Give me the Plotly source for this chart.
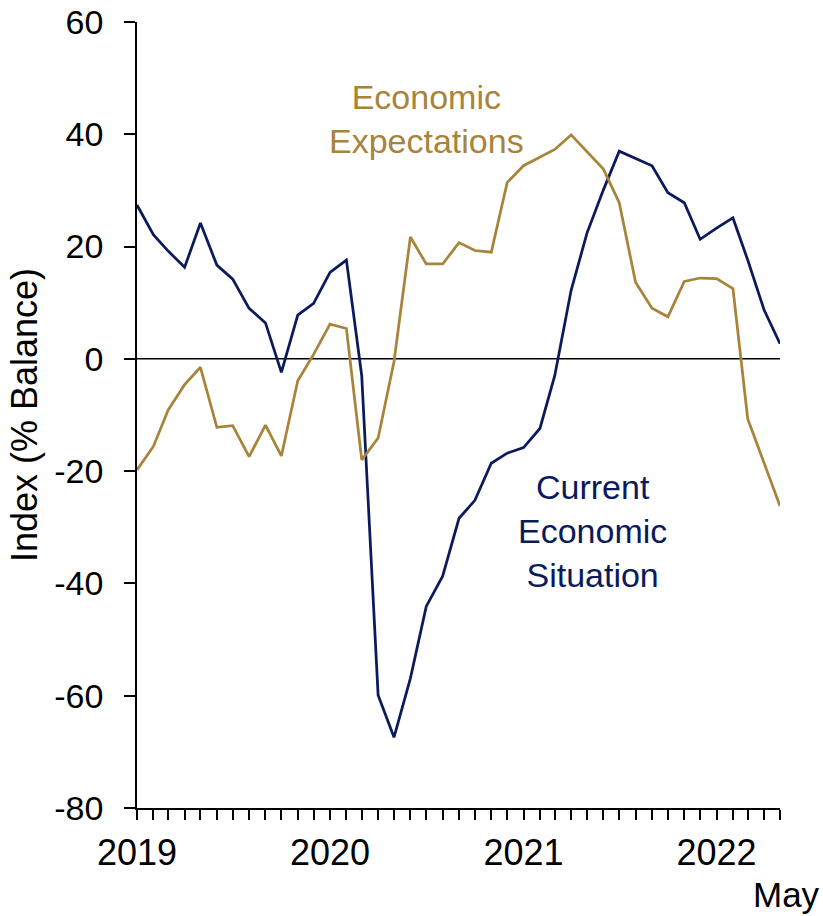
import pandas as pd
import plotly.graph_objects as go

# Monthly survey balances, Jan 2019 - May 2022
months = pd.date_range("2019-01-01", "2022-05-01", freq="MS")

current_situation = [
    27.4, 22.1, 19.2, 16.3, 24.2, 16.7, 14.2, 9.0, 6.4, -2.4, 7.8, 9.9,
    15.4, 17.6, -3.0, -59.9, -67.4, -56.9, -44.1, -38.7, -28.4, -25.2, -18.6, -16.8,
    -15.8, -12.4, -3.0, 12.2, 22.4, 30.1, 37.0, 35.7, 34.4, 29.6, 27.8, 21.3,
    23.3, 25.1, 17.6, 8.7, 2.7,
]
economic_expectations = [
    -19.8, -15.6, -9.1, -4.6, -1.5, -12.2, -11.9, -17.4, -11.8, -17.3, -3.9, 0.8,
    6.2, 5.4, -18.0, -14.1, -0.5, 21.7, 16.9, 16.9, 20.7, 19.3, 19.0, 31.4,
    34.4, 36.0, 37.3, 39.9, 36.9, 33.8, 27.8, 13.6, 9.0, 7.5, 13.8, 14.4,
    14.3, 12.5, -10.7, -18.4, -26.2,
]

y_ticks = [-80, -60, -40, -20, 0, 20, 40, 60]
y_tick_text = [str(v) for v in y_ticks]  # plain hyphen minus

NAVY = "#0B1A5B"
GOLD = "#A8843A"
FONT = "Liberation Sans, Arial, sans-serif"

fig = go.Figure()
fig.add_trace(go.Scatter(x=months, y=current_situation, mode="lines",
                         line=dict(color=NAVY, width=2.75), name="Current Economic Situation"))
fig.add_trace(go.Scatter(x=months, y=economic_expectations, mode="lines",
                         line=dict(color=GOLD, width=2.75), name="Economic Expectations"))

# zero reference line
fig.add_shape(type="line", xref="paper", x0=0, x1=1, yref="y", y0=0, y1=0,
              line=dict(color="black", width=1.5), layer="below")

tick_text = [str(d.year) if d.month == 1 else "" for d in months]

fig.update_layout(
    width=823, height=916,
    margin=dict(l=137, r=43, t=22, b=108),
    paper_bgcolor="white", plot_bgcolor="white",
    showlegend=False,
    font=dict(family=FONT, size=34, color="black"),
    xaxis=dict(
        range=[months[0], months[-1]], automargin=False,
        tickmode="array", tickvals=list(months), ticktext=tick_text,
        ticks="outside", ticklen=10, tickwidth=1.5, tickcolor="black",
        showline=True, linecolor="black", linewidth=1.75,
        showgrid=False, zeroline=False,
        tickfont=dict(size=36), tickangle=0, ticklabelstandoff=2,
    ),
    yaxis=dict(
        range=[-80, 60], automargin=False,
        tickmode="array", tickvals=y_ticks, ticktext=y_tick_text,
        ticks="outside", ticklen=11, tickwidth=1.5, tickcolor="black",
        showline=True, linecolor="black", linewidth=1.75,
        showgrid=False, zeroline=False,
        tickfont=dict(size=34), ticklabelstandoff=14,
        title=dict(text="Index (% Balance)", font=dict(size=36), standoff=6),
    ),
)

fig.add_annotation(x=months[-1], xref="x", y=-0.11, yref="paper",
                   text="May", showarrow=False, xanchor="center", yanchor="middle",
                   xshift=6, font=dict(size=35, color="black"))

fig.add_annotation(x=months[18], xref="x", y=42.8, yref="y",
                   text="Economic<br>Expectations", showarrow=False,
                   xanchor="center", yanchor="middle", font=dict(size=34, color=GOLD))
fig.add_annotation(x=months[28], xref="x", y=-30.7, yref="y", xshift=6,
                   text="Current<br>Economic<br>Situation", showarrow=False,
                   xanchor="center", yanchor="middle", font=dict(size=34, color=NAVY))

fig.write_html("out.html")
